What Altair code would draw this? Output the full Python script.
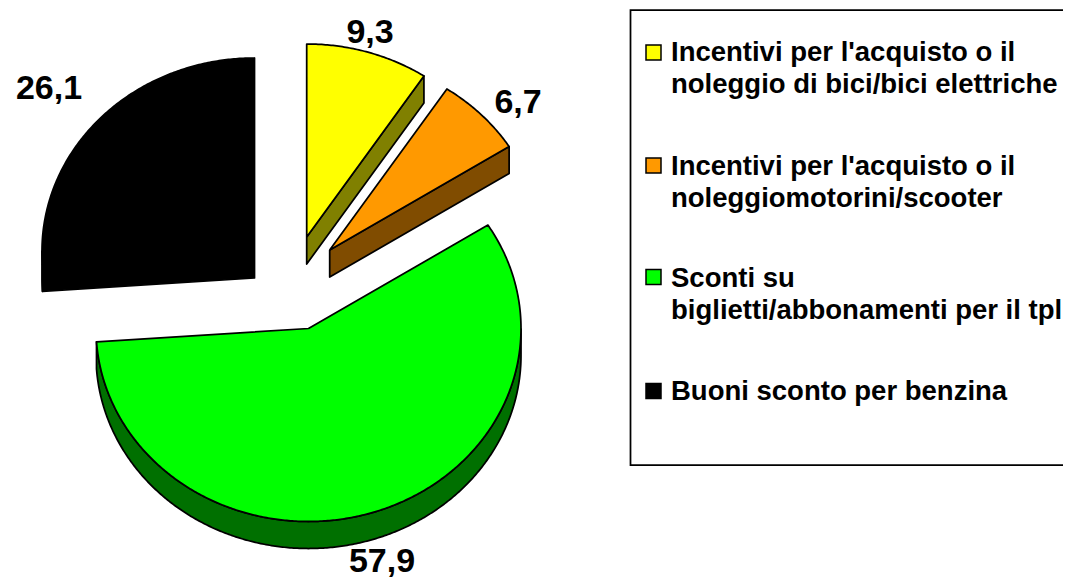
import math
import altair as alt
import pandas as pd

# --- data ---
categories = ["Incentivi per l'acquisto o il\nnoleggio di bici/bici elettriche",
              "Incentivi per l'acquisto o il\nnoleggiomotorini/scooter",
              "Sconti su\nbiglietti/abbonamenti per il tpl",
              "Buoni sconto per benzina"]
values = [9.3, 6.7, 57.9, 26.1]
value_labels = ["9,3", "6,7", "57,9", "26,1"]

# --- style / layout ---
top_colors = ["#FFFF00", "#FF9900", "#00FF00", "#000000"]
side_colors = ["#808000", "#804C00", "#007000", "#000000"]
centers = [(306.7, 237), (329.7, 250), (308.5, 328.5), (254.5, 251)]
RX, RY, DEPTH = 212.5, 193, 27
label_pos = [(370, 43), (518, 113), (382, 572), (49, 99)]
legend_square_y = [52.5, 165.5, 277, 391]
legend_text_y = [61, 175, 287, 400]
W, H = 1055, 570

x_enc = alt.X("x:Q", axis=None, scale=alt.Scale(domain=[8, 8 + W], range=[0, W], zero=False, nice=False))
y_enc = alt.Y("y:Q", axis=None, scale=alt.Scale(domain=[8, 8 + H], range=[0, H], zero=False, nice=False))


def poly_layer(points, fill, stroke="#000000", sw=1.75):
    pts = list(points) + [points[0]]
    df = pd.DataFrame({"x": [p[0] for p in pts], "y": [p[1] for p in pts], "i": range(len(pts))})
    return alt.Chart(df).mark_line(fill=fill, stroke=stroke, strokeWidth=sw, strokeJoin="round", clip=True).encode(
        x=x_enc, y=y_enc, order="i:Q")


def arc_pts(cx, cy, a0, a1, dy=0):
    n = max(2, int(abs(a1 - a0)) * 2)
    out = []
    for k in range(n + 1):
        t = math.radians(a0 + (a1 - a0) * k / n)
        out.append((cx + RX * math.sin(t), cy - RY * math.cos(t) + dy))
    return out


layers = []
start = 0.0
total = sum(values)
for v, top, side, (cx, cy) in zip(values, top_colors, side_colors, centers):
    a0 = start
    a1 = start + v / total * 360
    start = a1
    w0, w1 = max(a0, 90), min(a1, 270)
    if w1 > w0:
        layers.append(poly_layer(arc_pts(cx, cy, w0, w1) + arc_pts(cx, cy, w1, w0, DEPTH), side))
    if a1 < 90:
        e = arc_pts(cx, cy, a1, a1)[0]
        layers.append(poly_layer([(cx, cy), e, (e[0], e[1] + DEPTH), (cx, cy + DEPTH)], side))
    if a0 > 180:
        s = arc_pts(cx, cy, a0, a0)[0]
        layers.append(poly_layer([(cx, cy), s, (s[0], s[1] + DEPTH), (cx, cy + DEPTH)], side))
    layers.append(poly_layer([(cx, cy)] + arc_pts(cx, cy, a0, a1), top))

labels_df = pd.DataFrame({"t": value_labels, "x": [p[0] for p in label_pos], "y": [p[1] for p in label_pos]})
labels = alt.Chart(labels_df).mark_text(font="Liberation Sans", fontWeight="bold", fontSize=34,
                                        align="center", baseline="alphabetic", color="#000000").encode(
    x=x_enc, y=y_enc, text="t:N")

box_df = pd.DataFrame({"x": [630.5], "x2": [1090], "y": [10], "y2": [465]})
box = alt.Chart(box_df).mark_rect(fill="#FFFFFF", stroke="#000000", strokeWidth=1.75, clip=True).encode(
    x=x_enc, x2="x2:Q", y=y_enc, y2="y2:Q")

sq_df = pd.DataFrame({"x": [653.5] * 4, "y": legend_square_y, "c": top_colors})
squares = alt.Chart(sq_df).mark_square(size=225, opacity=1, stroke="#000000", strokeWidth=1.5).encode(
    x=x_enc, y=y_enc, fill=alt.Fill("c:N", scale=None))

rows = []
for cat, y0 in zip(categories, legend_text_y):
    for j, line in enumerate(cat.split("\n")):
        rows.append({"t": line, "x": 671, "y": y0 + j * 32})
legend_text = alt.Chart(pd.DataFrame(rows)).mark_text(font="Liberation Sans", fontWeight="bold", fontSize=27.5,
                                                      align="left", baseline="alphabetic", color="#000000").encode(
    x=x_enc, y=y_enc, text="t:N")

chart = alt.layer(box, *layers, labels, squares, legend_text).properties(
    width=W, height=H, padding=0, autosize=alt.AutoSizeParams(type="none"),
    background="#FFFFFF").configure_view(stroke=None)

chart.save("out.html", embed_options={"renderer": "svg", "actions": False})
